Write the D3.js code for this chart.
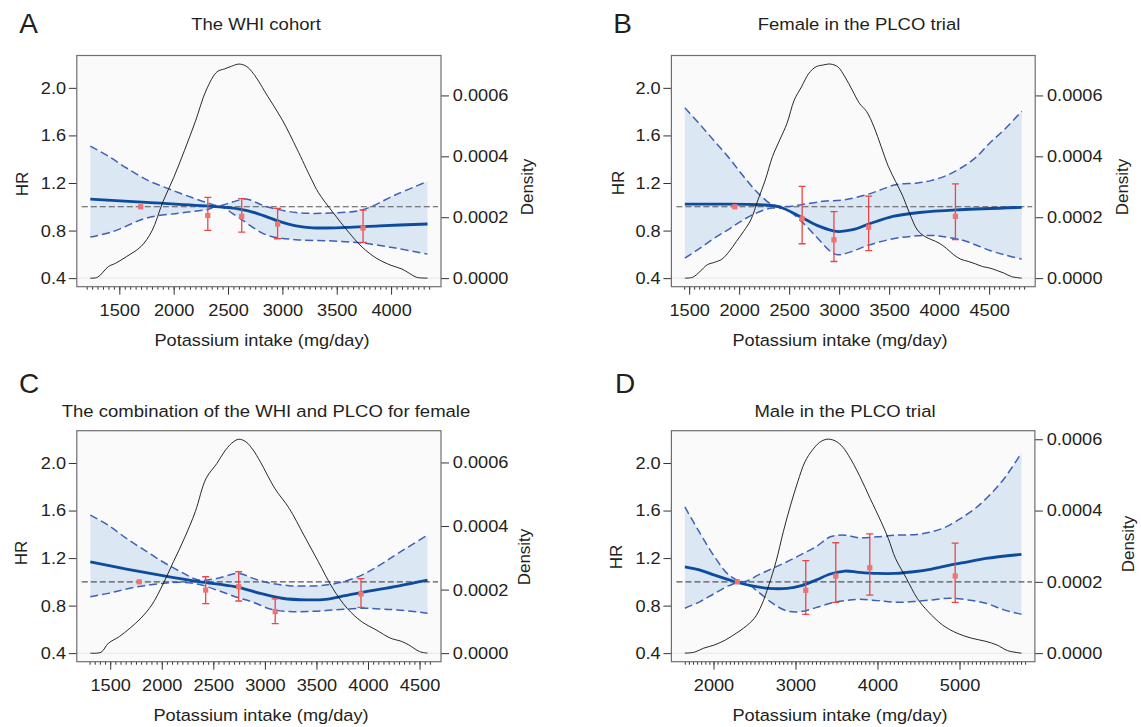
<!DOCTYPE html>
<html>
<head>
<meta charset="utf-8">
<script src="https://cdn.jsdelivr.net/npm/d3@7/dist/d3.min.js"></script>
<style>
    body { margin: 0; background: #fff; }
    svg text { font-family: "Liberation Sans", Arial, sans-serif; font-size: 17px; fill: #231f20; }
</style>
</head>
<body>
<div id="chart"></div>
<script>
// ---- data ----
// [intake, density]
const densA = [[1233,0],[1300,0.000003],[1400,0.000038],[1467,0.000049],[1567,0.000071],[1700,0.000104],[1800,0.000155],[1900,0.00025],[2000,0.00033],[2100,0.00042],[2200,0.000515],[2300,0.000618],[2400,0.000678],[2467,0.000687],[2533,0.000696],[2600,0.000703],[2667,0.000696],[2733,0.000672],[2867,0.000596],[3000,0.000519],[3133,0.000425],[3267,0.000325],[3333,0.00028],[3467,0.000215],[3600,0.000155],[3733,0.000102],[3867,0.000065],[4000,0.000042],[4100,0.00003],[4167,0.000016],[4233,0.000003],[4335,0]];
const densB = [[1457,0],[1536,0.000003],[1609,0.000022],[1681,0.000044],[1754,0.000052],[1826,0.000062],[1899,0.000087],[1971,0.00012],[2043,0.000153],[2116,0.000191],[2188,0.000257],[2261,0.000322],[2333,0.000399],[2406,0.000454],[2478,0.000508],[2551,0.000585],[2623,0.000628],[2696,0.000672],[2768,0.000694],[2841,0.0007],[2913,0.000703],[2986,0.000694],[3058,0.000661],[3130,0.000618],[3203,0.000574],[3275,0.000547],[3348,0.000497],[3420,0.000432],[3493,0.000366],[3565,0.000317],[3638,0.000268],[3710,0.000208],[3783,0.000158],[3855,0.000137],[3927,0.000126],[4000,0.000115],[4072,0.000098],[4145,0.000077],[4217,0.000062],[4290,0.000055],[4362,0.000047],[4435,0.000038],[4507,0.000033],[4580,0.000025],[4652,0.000016],[4724,0.000005],[4826,0]];
const densC = [[1307,0],[1412,0.000003],[1482,0.000031],[1588,0.000052],[1693,0.000079],[1798,0.00011],[1904,0.000152],[2009,0.000215],[2114,0.000288],[2219,0.000361],[2325,0.000445],[2430,0.00055],[2535,0.000597],[2605,0.000633],[2676,0.00066],[2746,0.000673],[2816,0.000665],[2886,0.000639],[2956,0.000602],[3097,0.000518],[3237,0.000455],[3377,0.000372],[3518,0.000288],[3658,0.000204],[3798,0.000141],[3939,0.000099],[4079,0.000073],[4219,0.000047],[4325,0.000037],[4395,0.000026],[4500,0.000005],[4577,0]];
const densD = [[1651,0],[1771,0.000003],[1881,0.000014],[2013,0.000023],[2146,0.000037],[2278,0.000056],[2366,0.00007],[2499,0.000098],[2587,0.000135],[2675,0.000191],[2763,0.000257],[2852,0.000341],[2940,0.000415],[3028,0.000481],[3116,0.000537],[3204,0.000569],[3293,0.000591],[3381,0.0006],[3469,0.000597],[3557,0.000583],[3646,0.000555],[3778,0.000499],[3910,0.000434],[4043,0.000369],[4131,0.000322],[4219,0.000266],[4352,0.00021],[4484,0.000154],[4616,0.000117],[4793,0.000079],[4969,0.000056],[5146,0.000042],[5322,0.000033],[5455,0.000023],[5587,0.000007],[5755,0]];

// [intake, HR] fitted spline, upper and lower 95% CI
const hrA = [[1233,1.065],[1749,1.037],[2360,1.003],[2605,0.981],[2758,0.947],[2972,0.877],[3125,0.840],[3277,0.823],[3584,0.826],[3890,0.840],[4335,0.855]];
const upA = [[1233,1.51],[1400,1.425],[1567,1.326],[1749,1.228],[1900,1.17],[2054,1.116],[2299,1.037],[2421,1.009],[2540,1.04],[2666,1.065],[2849,1.003],[3125,0.952],[3430,0.947],[3736,0.975],[4042,1.101],[4335,1.213]];
const loA = [[1233,0.745],[1442,0.792],[1749,0.905],[2054,0.947],[2299,0.975],[2421,1.003],[2605,0.905],[2849,0.765],[3125,0.723],[3430,0.714],[3736,0.695],[4042,0.653],[4335,0.602]];

const hrB = [[1457,1.023],[1800,1.022],[2204,1.017],[2404,0.998],[2637,0.905],[2804,0.835],[2971,0.793],[3137,0.807],[3304,0.857],[3537,0.919],[3804,0.952],[4204,0.975],[4826,0.995]];
const upB = [[1457,1.832],[1609,1.691],[1754,1.551],[1899,1.411],[2043,1.256],[2188,1.116],[2333,1.018],[2478,1.003],[2623,1.018],[2841,1.046],[3058,1.060],[3275,1.102],[3420,1.144],[3565,1.186],[3783,1.200],[3927,1.222],[4072,1.262],[4217,1.326],[4362,1.411],[4507,1.537],[4652,1.649],[4826,1.804]];
const loB = [[1457,0.568],[1609,0.653],[1754,0.737],[1899,0.813],[2043,0.891],[2188,0.953],[2333,0.989],[2478,0.975],[2623,0.877],[2768,0.751],[2913,0.625],[2986,0.596],[3130,0.625],[3275,0.672],[3493,0.723],[3710,0.751],[3927,0.759],[4072,0.745],[4217,0.723],[4362,0.681],[4507,0.633],[4652,0.596],[4826,0.560]];

const hrC = [[1307,1.169],[1658,1.108],[2009,1.052],[2360,1.001],[2711,0.959],[2956,0.903],[3167,0.862],[3412,0.848],[3588,0.853],[3763,0.881],[3939,0.912],[4290,0.965],[4577,1.015]];
const upC = [[1307,1.561],[1482,1.477],[1658,1.365],[1833,1.267],[2009,1.169],[2184,1.085],[2360,1.015],[2535,1.029],[2746,1.071],[2886,1.029],[3061,0.987],[3237,0.968],[3412,0.965],[3588,0.973],[3763,1.001],[3939,1.057],[4114,1.141],[4290,1.239],[4577,1.393]];
const loC = [[1307,0.875],[1482,0.903],[1658,0.940],[1833,0.968],[2009,0.987],[2184,0.996],[2360,0.979],[2535,0.931],[2711,0.875],[2886,0.828],[3061,0.769],[3237,0.750],[3412,0.750],[3588,0.758],[3763,0.769],[3939,0.778],[4114,0.772],[4290,0.764],[4577,0.736]];

const hrD = [[1651,1.127],[1837,1.099],[2013,1.057],[2234,1.007],[2454,0.968],[2675,0.945],[2896,0.945],[3072,0.968],[3249,1.015],[3425,1.066],[3602,1.091],[3778,1.080],[3999,1.071],[4219,1.071],[4440,1.085],[4660,1.108],[4881,1.141],[5102,1.169],[5322,1.197],[5755,1.231]];
const upD = [[1651,1.631],[1837,1.407],[2013,1.211],[2190,1.057],[2366,1.001],[2543,1.057],[2719,1.113],[2896,1.169],[3072,1.231],[3249,1.295],[3425,1.379],[3602,1.393],[3778,1.371],[3999,1.379],[4219,1.393],[4484,1.399],[4660,1.421],[4837,1.463],[5013,1.533],[5190,1.617],[5366,1.729],[5543,1.868],[5755,2.084]];
const loD = [[1651,0.778],[1837,0.834],[2013,0.903],[2190,0.968],[2366,1.001],[2543,0.917],[2719,0.820],[2896,0.755],[3072,0.750],[3249,0.783],[3425,0.820],[3602,0.842],[3778,0.853],[3999,0.842],[4219,0.828],[4440,0.834],[4660,0.848],[4881,0.862],[5102,0.848],[5322,0.820],[5543,0.764],[5755,0.728]];

// [intake, HR, lower, upper] category estimates
const ptsA = [[1696,1,1,1],[2314,0.927,0.801,1.079],[2626,0.919,0.787,1.068],[2956,0.855,0.731,0.986],[3742,0.821,0.700,0.973]];
const ptsB = [[1957,1,1,1],[2630,0.899,0.689,1.171],[2948,0.722,0.540,0.960],[3295,0.829,0.632,1.090],[4163,0.919,0.723,1.192]];
const ptsC = [[1781,1,1,1],[2426,0.931,0.817,1.043],[2746,0.959,0.839,1.085],[3100,0.750,0.649,0.856],[3932,0.898,0.786,1.027]];
const ptsD = [[2291,1,1,1],[3125,0.929,0.727,1.178],[3491,1.049,0.828,1.329],[3906,1.119,0.889,1.404],[4947,1.049,0.828,1.326]];

// axis ticks and labels
const xTicksA = [1500, 2000, 2500, 3000, 3500, 4000];
const xTicksB = [1500, 2000, 2500, 3000, 3500, 4000, 4500];
const xTicksC = [1500, 2000, 2500, 3000, 3500, 4000, 4500];
const xTicksD = [2000, 3000, 4000, 5000];
const hrTicks = [0.4, 0.8, 1.2, 1.6, 2.0];
const densTicks = [0, 0.0002, 0.0004, 0.0006];
const hrLimits = [0.4, 2.2];
const titles = ["The WHI cohort", "Female in the PLCO trial", "The combination of the WHI and PLCO for female", "Male in the PLCO trial"];
const letters = ["A", "B", "C", "D"];

//SVG
const width = 1141;
const height = 727;
const svg = d3.select("#chart")
    .append("svg")
    .attr("width", width)
    .attr("height", height)
    .attr("viewBox", [0, 0, width, height]);

const stretch = "scale(1.07,1)";

const panels = [
    {dens: densA, hr: hrA, up: upA, lo: loA, pts: ptsA, xTicks: xTicksA,
        box: {l: 76.8, r: 441, t: 55.5, b: 286.7}, letterPos: [28.5, 33], titlePos: [256, 30],
        hrPos: [22, 184], densPos: [527, 187], xLabPos: [262, 346]},
    {dens: densB, hr: hrB, up: upB, lo: loB, pts: ptsB, xTicks: xTicksB,
        box: {l: 671.4, r: 1035.2, t: 55.5, b: 286.7}, letterPos: [622.5, 33], titlePos: [859, 30],
        hrPos: [618, 183], densPos: [1122, 187], xLabPos: [840, 346]},
    {dens: densC, hr: hrC, up: upC, lo: loC, pts: ptsC, xTicks: xTicksC,
        box: {l: 76.8, r: 441, t: 430.7, b: 661.7}, letterPos: [29, 393], titlePos: [266, 417],
        hrPos: [21, 553], densPos: [524, 557], xLabPos: [261, 721]},
    {dens: densD, hr: hrD, up: upD, lo: loD, pts: ptsD, xTicks: xTicksD,
        box: {l: 671.4, r: 1034.9, t: 430.7, b: 661.7}, letterPos: [625, 393], titlePos: [845, 417],
        hrPos: [616.5, 557], densPos: [1128, 544], xLabPos: [840, 721]}
];

function drawPanel(p, i) {
    const b = p.box;
    const g = svg.append("g");

    // R style 4% padding on every axis
    const xExt = d3.extent(p.hr, d => d[0]);
    const xPad = (xExt[1] - xExt[0]) * 0.04;
    const xScale = d3.scaleLinear()
        .domain([xExt[0] - xPad, xExt[1] + xPad])
        .range([b.l, b.r]);
    const hrPad = (hrLimits[1] - hrLimits[0]) * 0.04;
    const yScale = d3.scaleLinear()
        .domain([hrLimits[0] - hrPad, hrLimits[1] + hrPad])
        .range([b.b, b.t]);
    const dMax = d3.max(p.dens, d => d[1]);
    const dScale = d3.scaleLinear()
        .domain([-0.04 * dMax, 1.04 * dMax])
        .range([b.b, b.t]);

    g.append("rect")
        .attr("x", b.l)
        .attr("y", b.t)
        .attr("width", b.r - b.l)
        .attr("height", b.b - b.t)
        .attr("fill", "#fafafa");

    g.append("clipPath")
        .attr("id", "clip" + i)
        .append("rect")
        .attr("x", b.l)
        .attr("y", b.t)
        .attr("width", b.r - b.l)
        .attr("height", b.b - b.t);
    const plot = g.append("g").attr("clip-path", `url(#clip${i})`);

    const makeLine = d3.line()
        .curve(d3.curveCatmullRom.alpha(0.5))
        .x(d => xScale(d[0]))
        .y(d => yScale(d[1]));

    //CI band
    const upPath = makeLine(p.up);
    const loPath = makeLine(p.lo.slice().reverse());
    plot.append("path")
        .attr("d", upPath + "L" + loPath.slice(1) + "Z")
        .attr("fill", "#dce7f4")
        .attr("stroke", "none");

    //density baseline
    plot.append("line")
        .attr("x1", b.l)
        .attr("x2", b.r)
        .attr("y1", dScale(0))
        .attr("y2", dScale(0))
        .attr("stroke", "#e6e6e6")
        .attr("stroke-width", 1);

    //HR = 1 reference
    plot.append("line")
        .attr("x1", b.l + 5)
        .attr("x2", b.r - 3)
        .attr("y1", yScale(1))
        .attr("y2", yScale(1))
        .attr("stroke", "#555")
        .attr("stroke-width", 1.1)
        .attr("stroke-dasharray", "6,3");

    [p.up, p.lo].forEach(ci => {
        plot.append("path")
            .attr("d", makeLine(ci))
            .attr("fill", "none")
            .attr("stroke", "#3f60b5")
            .attr("stroke-width", 1.5)
            .attr("stroke-dasharray", "8,4");
    });

    plot.append("path")
        .attr("d", makeLine(p.hr))
        .attr("fill", "none")
        .attr("stroke", "#0d4c9c")
        .attr("stroke-width", 2.8);

    //density
    const densLine = d3.line()
        .curve(d3.curveCatmullRom.alpha(0.5))
        .x(d => xScale(d[0]))
        .y(d => dScale(d[1]));
    plot.append("path")
        .attr("d", densLine(p.dens))
        .attr("fill", "none")
        .attr("stroke", "#111")
        .attr("stroke-width", 0.9);

    //category points
    p.pts.forEach(d => {
        const px = xScale(d[0]);
        if (d[2] !== d[3]) {
            plot.append("line")
                .attr("x1", px).attr("x2", px)
                .attr("y1", yScale(d[3])).attr("y2", yScale(d[2]))
                .attr("stroke", "#e8474a").attr("stroke-width", 1.3);
            [d[2], d[3]].forEach(v => {
                plot.append("line")
                    .attr("x1", px - 3.5).attr("x2", px + 3.5)
                    .attr("y1", yScale(v)).attr("y2", yScale(v))
                    .attr("stroke", "#e8474a").attr("stroke-width", 1.3);
            });
        }
        plot.append("rect")
            .attr("x", px - 2.6)
            .attr("y", yScale(d[1]) - 2.6)
            .attr("width", 5.2)
            .attr("height", 5.2)
            .attr("fill", "#f07272");
    });

    //axes
    const yAxis = g.append("g")
        .attr("transform", `translate(${b.l},0)`)
        .attr("color", "#333")
        .call(d3.axisLeft(yScale).tickValues(hrTicks).tickFormat(d3.format(".1f")).tickSize(8).tickPadding(2));
    yAxis.select(".domain").remove();

    const dAxis = g.append("g")
        .attr("transform", `translate(${b.r},0)`)
        .attr("color", "#333")
        .call(d3.axisRight(dScale).tickValues(densTicks).tickFormat(d3.format(".4f")).tickSize(8).tickPadding(3));
    dAxis.select(".domain").remove();

    const minor = d3.range(Math.ceil((xExt[0] - 50) / 50) * 50, xExt[1] + 50, 50);
    const xMinor = g.append("g")
        .attr("transform", `translate(0,${b.b})`)
        .attr("color", "#333")
        .call(d3.axisBottom(xScale).tickValues(minor).tickFormat("").tickSize(3));
    xMinor.select(".domain").remove();

    const xAxis = g.append("g")
        .attr("transform", `translate(0,${b.b})`)
        .attr("color", "#333")
        .call(d3.axisBottom(xScale).tickValues(p.xTicks).tickFormat(d3.format("d")).tickSize(8).tickPadding(9.4));
    xAxis.select(".domain").remove();

    g.selectAll(".tick text").attr("transform", stretch);

    //box
    g.append("rect")
        .attr("x", b.l)
        .attr("y", b.t)
        .attr("width", b.r - b.l)
        .attr("height", b.b - b.t)
        .attr("fill", "none")
        .attr("stroke", "#6e6e6e")
        .attr("stroke-width", 1.2);

    //labels
    g.append("text")
        .attr("transform", `translate(${p.letterPos[0]},${p.letterPos[1]})`)
        .attr("text-anchor", "middle")
        .style("font-size", "28px")
        .text(letters[i]);

    g.append("text")
        .attr("transform", `translate(${p.titlePos[0]},${p.titlePos[1]}) scale(1.09,1)`)
        .attr("text-anchor", "middle")
        .text(titles[i]);

    g.append("text")
        .attr("transform", `translate(${p.xLabPos[0]},${p.xLabPos[1]}) ${stretch}`)
        .attr("text-anchor", "middle")
        .text("Potassium intake (mg/day)");

    g.append("text")
        .attr("transform", `translate(${p.hrPos[0]},${p.hrPos[1]}) rotate(-90)`)
        .attr("text-anchor", "middle")
        .attr("dy", "0.35em")
        .text("HR");

    g.append("text")
        .attr("transform", `translate(${p.densPos[0]},${p.densPos[1]}) rotate(-90)`)
        .attr("text-anchor", "middle")
        .attr("dy", "0.35em")
        .text("Density");
}

panels.forEach(drawPanel);
</script>
</body>
</html>
